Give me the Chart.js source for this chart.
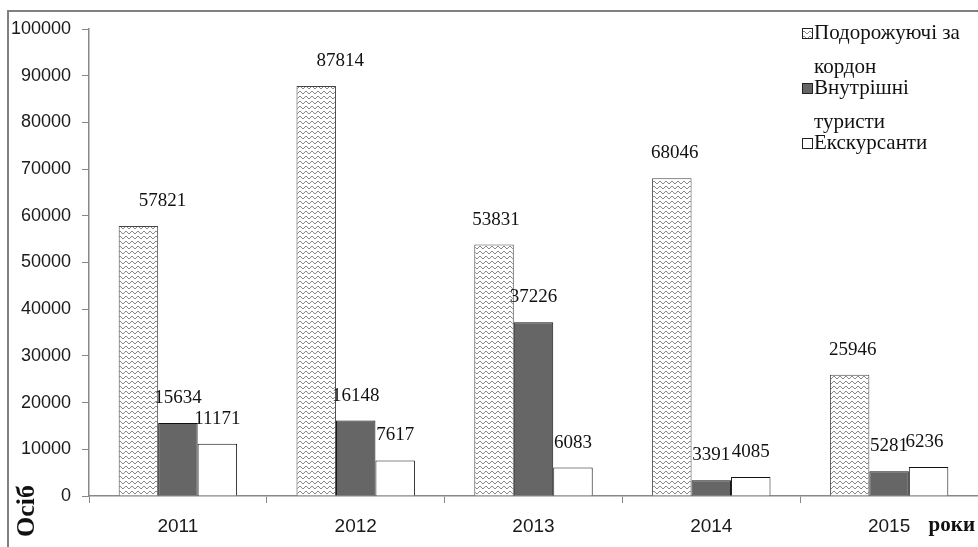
<!DOCTYPE html>
<html>
<head>
<meta charset="utf-8">
<script src="https://cdn.jsdelivr.net/npm/chart.js@4"></script>
<style>
  html, body { margin: 0; padding: 0; background: #fff; }
  #wrap { width: 978px; height: 547px; position: relative; }
</style>
</head>
<body>
<div id="wrap"><canvas id="touristChart"></canvas></div>
<script>
// data
const years = ["2011", "2012", "2013", "2014", "2015"];
const abroad = [57821, 87814, 53831, 68046, 25946];
const domestic = [15634, 16148, 37226, 3391, 5281];
const excursion = [11171, 7617, 6083, 4085, 6236];
const seriesNames = [["Подорожуючі за", "кордон"], ["Внутрішні", "туристи"], ["Екскурсанти"]];

const serif = "'Liberation Serif', 'Times New Roman', serif";
const sans = "'Liberation Sans', Arial, sans-serif";

// zigzag fill for the first series
function makeZigzag() {
  const tile = document.createElement("canvas");
  tile.width = 6;
  tile.height = 5;
  const c = tile.getContext("2d");
  c.fillStyle = "#fff";
  c.fillRect(0, 0, 6, 5);
  c.strokeStyle = "#8a8a8a";
  c.lineWidth = 1;
  c.beginPath();
  c.moveTo(0, 1);
  c.lineTo(3, 4);
  c.lineTo(6, 1);
  c.stroke();
  return c.createPattern(tile, "repeat");
}
const zigzag = makeZigzag();

// white background + the cropped frame (top and left lines)
const framePlugin = {
  id: "frame",
  beforeDraw(chart) {
    const ctx = chart.ctx;
    ctx.save();
    ctx.fillStyle = "#fff";
    ctx.fillRect(0, 0, chart.width, chart.height);
    ctx.fillStyle = "#808080";
    ctx.fillRect(7, 10, chart.width - 7, 2);
    ctx.fillRect(7, 10, 2, chart.height - 10);
    ctx.restore();
  },
};

// value labels above bars
const valueLabels = {
  id: "valueLabels",
  afterDatasetsDraw(chart, args, opts) {
    const ctx = chart.ctx;
    ctx.save();
    ctx.font = "19px " + serif;
    ctx.fillStyle = "#111";
    ctx.textAlign = "center";
    ctx.textBaseline = "middle";
    chart.data.datasets.forEach((ds, i) => {
      chart.getDatasetMeta(i).data.forEach((bar, j) => {
        const shift = (opts.shift[i] && opts.shift[i][j]) || 0;
        ctx.fillText(String(ds.data[j]), bar.x + shift, bar.y - 25);
      });
    });
    ctx.restore();
  },
};

// legend in the top right corner, wrapped like the original
const sideLegend = {
  id: "sideLegend",
  afterDraw(chart) {
    const ctx = chart.ctx;
    const fills = [zigzag, "#666666", "#ffffff"];
    const rows = [33, 88, 143];
    ctx.save();
    ctx.font = "21px " + serif;
    ctx.textBaseline = "middle";
    seriesNames.forEach((lines, i) => {
      const y = rows[i];
      ctx.fillStyle = fills[i];
      ctx.fillRect(802, y - 5, 10, 10);
      ctx.strokeStyle = "#222";
      ctx.lineWidth = 1;
      ctx.strokeRect(802.5, y - 4.5, 10, 10);
      ctx.fillStyle = "#111";
      lines.forEach((t, k) => ctx.fillText(t, 814, y + k * 34));
    });
    ctx.restore();
  },
};

// axis captions: "Осіб" vertical at bottom left, "роки" at bottom right
const axisCaptions = {
  id: "axisCaptions",
  afterDraw(chart) {
    const ctx = chart.ctx;
    ctx.save();
    ctx.fillStyle = "#111";
    ctx.font = "bold 21px " + serif;
    ctx.textAlign = "right";
    ctx.textBaseline = "middle";
    ctx.fillText("роки", 975, 526);
    ctx.translate(27, 511);
    ctx.rotate(-Math.PI / 2);
    ctx.textAlign = "center";
    ctx.font = "bold 26px " + serif;
    ctx.fillText("Осіб", 0, 0);
    ctx.restore();
  },
};

new Chart(document.getElementById("touristChart"), {
  type: "bar",
  data: {
    labels: years,
    datasets: [
      {
        label: seriesNames[0].join(" "),
        data: abroad,
        backgroundColor: zigzag,
        borderColor: "#444",
        borderWidth: 1,
      },
      {
        label: seriesNames[1].join(" "),
        data: domestic,
        backgroundColor: "#666666",
        borderColor: "#111",
        borderWidth: 1,
      },
      {
        label: seriesNames[2][0],
        data: excursion,
        backgroundColor: "#ffffff",
        borderColor: "#111",
        borderWidth: 1,
      },
    ],
  },
  options: {
    responsive: true,
    maintainAspectRatio: false,
    animation: false,
    layout: { padding: { top: 29, left: 0, right: 0, bottom: 0 } },
    datasets: {
      bar: { categoryPercentage: 0.666, barPercentage: 1 },
    },
    scales: {
      x: {
        afterFit: (scale) => { scale.height = 51; },
        grid: {
          offset: true,
          drawOnChartArea: false,
          drawTicks: true,
          tickLength: 7,
          color: "#888",
        },
        border: { color: "#888", width: 1.5 },
        ticks: {
          padding: 12,
          color: "#1a1a1a",
          font: { family: sans, size: 19 },
        },
      },
      y: {
        min: 0,
        max: 100000,
        afterFit: (scale) => { scale.width = 89; },
        grid: {
          drawOnChartArea: false,
          drawTicks: true,
          tickLength: 7,
          color: "#888",
        },
        border: { color: "#888", width: 1.5 },
        ticks: {
          stepSize: 10000,
          padding: 11,
          color: "#1a1a1a",
          font: { family: sans, size: 18 },
          callback: (value) => String(value),
        },
      },
    },
    plugins: {
      legend: { display: false },
      tooltip: { enabled: false },
      valueLabels: { shift: [[24, 24, 2, 3, 3], [], [0, 0, 0, 0, -4]] },
    },
  },
  plugins: [framePlugin, valueLabels, sideLegend, axisCaptions],
});
</script>
</body>
</html>
